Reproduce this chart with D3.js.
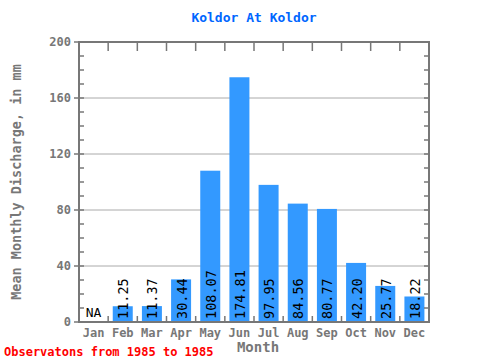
<!DOCTYPE html>
<html><head><meta charset="utf-8">
<script src="https://cdn.jsdelivr.net/npm/d3@7"></script>
<style>body{margin:0;background:#fff}svg{display:block}</style>
</head><body>
<script>
const months = ["Jan","Feb","Mar","Apr","May","Jun","Jul","Aug","Sep","Oct","Nov","Dec"];
const values = [null,11.25,11.37,30.44,108.07,174.81,97.95,84.56,80.77,42.20,25.77,18.22];
const yTicks = [0,40,80,120,160,200];
const title = "Koldor At Koldor";
const yTitle = "Mean Monthly Discharge, in mm";
const xTitle = "Month";
const footer = "Observatons from 1985 to 1985";

const W=480,H=360, L=79,R=429,T=42,B=322;
const svg=d3.select("body").append("svg").attr("width",W).attr("height",H);
const x=d3.scaleBand().domain(months).range([L,R]);
const y=d3.scaleLinear().domain([0,200]).range([B,T]);
const gray="#777", mono="'DejaVu Sans Mono', monospace";

// gridlines
svg.selectAll(".grid").data(yTicks.filter(d=>d>0&&d<200)).enter().append("line")
  .attr("x1",L).attr("x2",R).attr("y1",d=>y(d)).attr("y2",d=>y(d))
  .attr("stroke","#aaa").attr("stroke-width",1);

// bars
svg.selectAll(".bar").data(months.map((m,i)=>({m,v:values[i]})).filter(d=>d.v!=null))
  .enter().append("rect")
  .attr("x",d=>x(d.m)+x.bandwidth()/2-10).attr("width",20)
  .attr("y",d=>y(d.v)).attr("height",d=>B-y(d.v)).attr("fill","#3399ff");

// value labels
months.forEach((m,i)=>{
  const cx=x(m)+x.bandwidth()/2;
  if(values[i]==null){
    svg.append("text").attr("x",cx).attr("y",B-5).attr("text-anchor","middle")
      .attr("font-family",mono).attr("font-size",13).attr("fill","#000").text("NA");
  } else {
    svg.append("text").attr("transform",`translate(${cx+5.5},${B-3}) rotate(-90)`)
      .attr("font-family",mono).attr("font-size",13.5).attr("fill","#000")
      .text(values[i].toFixed(2));
  }
});

// frame
svg.append("rect").attr("x",L).attr("y",T).attr("width",R-L).attr("height",B-T)
  .attr("fill","none").attr("stroke",gray).attr("stroke-width",2);

// y ticks
const minor=d3.range(0,201,10);
minor.forEach(v=>{
  svg.append("line").attr("x1",L).attr("x2",L+5).attr("y1",y(v)).attr("y2",y(v)).attr("stroke",gray).attr("stroke-width",1.5);
  svg.append("line").attr("x1",R).attr("x2",R-5).attr("y1",y(v)).attr("y2",y(v)).attr("stroke",gray).attr("stroke-width",1.5);
});
yTicks.forEach(v=>{
  svg.append("line").attr("x1",L-5).attr("x2",L).attr("y1",y(v)).attr("y2",y(v)).attr("stroke",gray).attr("stroke-width",1.5);
  svg.append("text").attr("x",L-8).attr("y",y(v)+4).attr("text-anchor","end")
    .attr("font-family",mono).attr("font-weight","bold").attr("font-size",12).attr("fill",gray).text(v);
});
// x ticks
months.forEach((m,i)=>{
  if(i>0){
    svg.append("line").attr("x1",x(m)).attr("x2",x(m)).attr("y1",T).attr("y2",T+9).attr("stroke",gray).attr("stroke-width",1.5);
    svg.append("line").attr("x1",x(m)).attr("x2",x(m)).attr("y1",B).attr("y2",B-6).attr("stroke",gray).attr("stroke-width",1.5);
  }
  svg.append("text").attr("x",x(m)+x.bandwidth()/2).attr("y",B+15).attr("text-anchor","middle")
    .attr("font-family",mono).attr("font-weight","bold").attr("font-size",12).attr("fill",gray).text(m);
});

svg.append("text").attr("x",(L+R)/2).attr("y",22).attr("text-anchor","middle")
  .attr("font-family",mono).attr("font-weight","bold").attr("font-size",13).attr("fill","#0066ff").text(title);
svg.append("text").attr("transform",`translate(21,${(T+B)/2}) rotate(-90)`).attr("text-anchor","middle")
  .attr("font-family",mono).attr("font-weight","bold").attr("font-size",13.5).attr("fill",gray).text(yTitle);
svg.append("text").attr("x",258).attr("y",352).attr("text-anchor","middle")
  .attr("font-family",mono).attr("font-weight","bold").attr("font-size",14).attr("fill",gray).text(xTitle);
svg.append("text").attr("x",4).attr("y",356)
  .attr("font-family",mono).attr("font-weight","bold").attr("font-size",12).attr("fill","#ff0000").text(footer);
</script>
</body></html>
